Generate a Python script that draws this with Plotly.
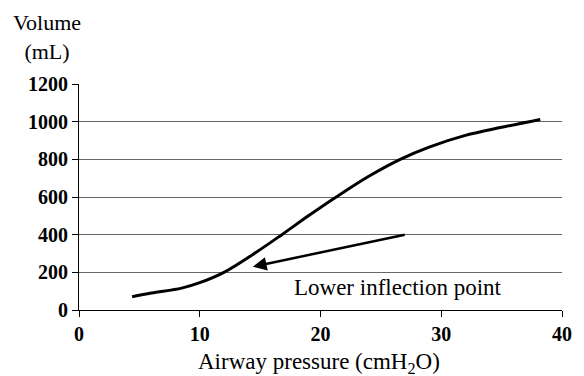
import plotly.graph_objects as go

# Data
pressure = [4.4, 6, 8.5, 10, 12, 14.4, 16.8, 19, 21.3, 24, 26.6, 29, 32, 35, 38.2]
volume = [70, 90, 116, 145, 200, 295, 400, 500, 600, 710, 800, 865, 927, 970, 1012]

x_ticks = [0, 10, 20, 30, 40]
y_ticks = [0, 200, 400, 600, 800, 1000, 1200]

arrow_head = (14.4, 230)
arrow_tail = (27.1, 401)
label_pos = (26.4, 122)
label_text = "Lower inflection point"

serif = "Liberation Serif, Times New Roman, serif"

fig = go.Figure()
fig.add_trace(go.Scatter(
    x=pressure, y=volume, mode="lines",
    line=dict(color="black", width=3, shape="spline", smoothing=1.0),
    hoverinfo="skip", showlegend=False,
))

fig.add_annotation(
    x=arrow_head[0], y=arrow_head[1], ax=arrow_tail[0], ay=arrow_tail[1],
    xref="x", yref="y", axref="x", ayref="y",
    text="", showarrow=True, arrowhead=2, arrowsize=1.1, arrowwidth=2.5,
    arrowcolor="black",
)
fig.add_annotation(
    x=label_pos[0], y=label_pos[1], xref="x", yref="y",
    xanchor="center", yanchor="middle",
    text=label_text, showarrow=False,
    font=dict(family=serif, size=23, color="black"),
)
fig.add_annotation(
    x=-0.066, y=1.207, xref="paper", yref="paper",
    xanchor="center", yanchor="middle",
    text="Volume<br>(mL)", showarrow=False, align="center",
    font=dict(family=serif, size=22, color="black"),
)
fig.add_annotation(
    x=0.497, y=-0.234, xref="paper", yref="paper",
    xanchor="center", yanchor="middle",
    text="Airway pressure (cmH<sub>2</sub>O)", showarrow=False,
    font=dict(family=serif, size=23, color="black"),
)

fig.update_xaxes(
    range=[0, 40], tickvals=x_ticks, ticktext=[str(v) for v in x_ticks],
    showgrid=False, zeroline=False,
    showline=True, linecolor="black", linewidth=1,
    ticks="outside", ticklen=6, tickcolor="black",
    tickfont=dict(family=serif, size=20, color="black", weight="bold"),
)
fig.update_yaxes(
    range=[0, 1200], tickvals=y_ticks, ticktext=[str(v) for v in y_ticks],
    showgrid=True, gridcolor="#666666", gridwidth=1, zeroline=False,
    showline=True, linecolor="black", linewidth=1,
    ticks="outside", ticklen=6, tickcolor="black",
    tickfont=dict(family=serif, size=20, color="black", weight="bold"),
)

fig.update_layout(
    width=584, height=376,
    margin=dict(l=79, r=17, t=84, b=66),
    paper_bgcolor="white", plot_bgcolor="white",
    font=dict(family=serif, color="black"),
)

fig.write_html("out.html")
